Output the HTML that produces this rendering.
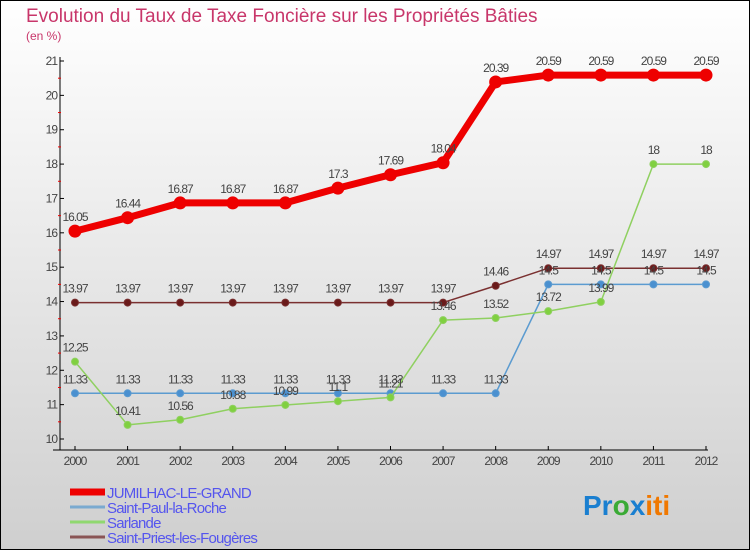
<!DOCTYPE html>
<html><head><meta charset="utf-8"><style>
html,body{margin:0;padding:0}
body{width:750px;height:550px;overflow:hidden;font-family:"Liberation Sans",sans-serif}
</style></head><body>
<svg id="chart" width="750" height="550" xmlns="http://www.w3.org/2000/svg">
<defs><linearGradient id="bg" x1="0" y1="0" x2="0" y2="1"><stop offset="0" stop-color="#ffffff"/><stop offset="1" stop-color="#cfcfcf"/></linearGradient></defs>
<rect x="0.5" y="0.5" width="749" height="549" fill="url(#bg)" stroke="#000"/>
<text x="26" y="22" font-size="19" fill="#c8366a">Evolution du Taux de Taxe Foncière sur les Propriétés Bâties</text>
<text x="26" y="40" font-size="12" fill="#c8366a">(en %)</text>
<g id="axes"></g>
<g id="series"></g>
<g id="legend"></g>
<text x="583" y="515" font-size="28" font-weight="bold"><tspan fill="#1a7fd0">Pr</tspan><tspan fill="#3aaa35">o</tspan><tspan fill="#1a7fd0">x</tspan><tspan fill="#f07800">iti</tspan></text>
</svg>
<script>
const years = [2000,2001,2002,2003,2004,2005,2006,2007,2008,2009,2010,2011,2012];
const yTicks = [10,11,12,13,14,15,16,17,18,19,20,21];
const jumilhac = [16.05,16.44,16.87,16.87,16.87,17.3,17.69,18.04,20.39,20.59,20.59,20.59,20.59];
const saintPaul = [11.33,11.33,11.33,11.33,11.33,11.33,11.33,11.33,11.33,14.5,14.5,14.5,14.5];
const sarlande = [12.25,10.41,10.56,10.88,10.99,11.1,11.21,13.46,13.52,13.72,13.99,18,18];
const saintPriest = [13.97,13.97,13.97,13.97,13.97,13.97,13.97,13.97,14.46,14.97,14.97,14.97,14.97];
const seriesNames = ["JUMILHAC-LE-GRAND","Saint-Paul-la-Roche","Sarlande","Saint-Priest-les-Fougères"];

const NS="http://www.w3.org/2000/svg";
const X0=75,X1=706,Y10=439,Y21=61;
const xs=i=>X0+(X1-X0)*i/(years.length-1);
const ys=v=>Y10-(v-10)*(Y10-Y21)/11;
function mk(tag,attrs,parent,text){const e=document.createElementNS(NS,tag);for(const k in attrs)e.setAttribute(k,attrs[k]);if(text!==undefined)e.textContent=text;parent.appendChild(e);return e;}
const axes=document.getElementById('axes');
let e=mk('line',{x1:60,y1:57,x2:60,y2:450,stroke:'#000'},axes);


e=mk('line',{x1:53,y1:450,x2:708,y2:450,stroke:'#000'},axes);


yTicks.forEach(t=>{
  mk('line',{x1:60,y1:ys(t),x2:64,y2:ys(t),stroke:'#000'},axes);
  if(t<21) mk('line',{x1:58,y1:ys(t+0.5),x2:61,y2:ys(t+0.5),stroke:'#e00'},axes);
  const l=mk('text',{x:57,y:ys(t)+4,'font-size':12,fill:'#444','text-anchor':'end','letter-spacing':'-1'},axes,String(t));
  
  
});
years.forEach((y,i)=>{
  mk('line',{x1:xs(i),y1:446,x2:xs(i),y2:450,stroke:'#000'},axes);
  const l=mk('text',{x:xs(i),y:465,'font-size':12,fill:'#444','text-anchor':'middle','letter-spacing':'-1'},axes,String(y));
  
  
});
const sg=document.getElementById('series');
function draw(data,color,fill,w,r,name){
  const g=mk('g',{},sg);
  
  
  mk('polyline',{points:data.map((v,i)=>xs(i)+','+ys(v)).join(' '),fill:'none',stroke:color,'stroke-width':w,'stroke-linejoin':'round'},g);
  data.forEach((v,i)=>{
    const c=mk('circle',{cx:xs(i),cy:ys(v),r:r,fill:fill,stroke:color,'stroke-width':1},g);
    
    
    const t=mk('text',{x:xs(i),y:ys(v)-10,'font-size':12,fill:'#444','text-anchor':'middle','letter-spacing':'-1'},g,String(v));
    
    
  });
}
draw(saintPriest,'#7a3030','#6a1a1a',1.5,3.5,'series-saint-priest');
draw(saintPaul,'#5b9bd0','#4a90d0',1.5,3.5,'series-saint-paul');
draw(sarlande,'#8fd060','#80d040',1.5,3.5,'series-sarlande');
draw(jumilhac,'#ee0000','#ee0000',7,6,'series-jumilhac');
const lg=document.getElementById('legend');
const lc=['#ee0000','#7aaad0','#90d870','#8a5555'];
const lw=[7,3,3,3];
seriesNames.forEach((n,i)=>{
  const y=492+i*15;
  const g=mk('g',{},lg);
  
  
  mk('line',{x1:70,y1:y,x2:105,y2:y,stroke:lc[i],'stroke-width':lw[i]},g);
  mk('text',{x:107,y:y+6,'font-size':15,fill:'#5555ee','letter-spacing':'-0.8'},g,n);
});
</script>
</body></html>
